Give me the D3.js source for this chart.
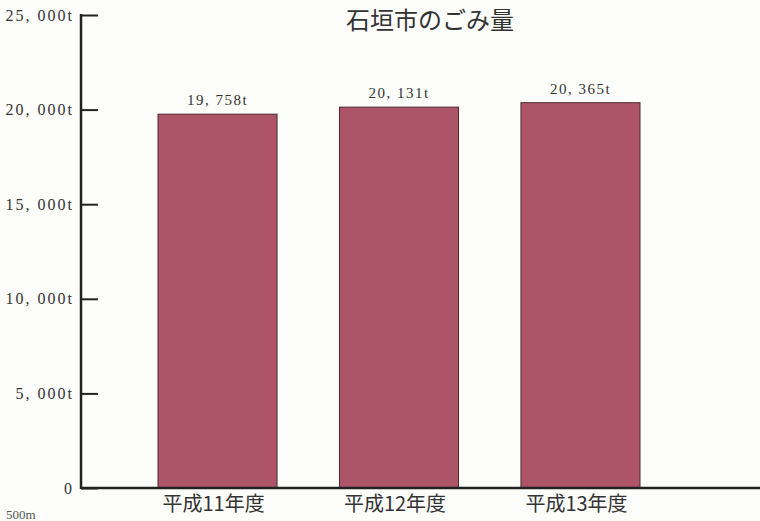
<!DOCTYPE html>
<html>
<head>
<meta charset="utf-8">
<script src="https://cdn.jsdelivr.net/npm/d3@7"></script>
<style>
  body { margin: 0; background: #fdfdfb; }
  svg { display: block; }
</style>
</head>
<body>
<div id="viz"></div>
<script>
// data
const years = ["平成11年度", "平成12年度", "平成13年度"]
const tonnes = [19758, 20131, 20365]
const valueLabels = ["19, 758t", "20, 131t", "20, 365t"]
const yTicks = [0, 5000, 10000, 15000, 20000, 25000]
const yTickLabels = ["0", "5, 000t", "10, 000t", "15, 000t", "20, 000t", "25, 000t"]

const W = 760, H = 521
const margin = { top: 15, right: 0, bottom: 33, left: 81 }

const svg = d3.select("#viz").append("svg")
  .attr("width", W).attr("height", H)

svg.append("rect").attr("width", W).attr("height", H).attr("fill", "#fdfdfb")

// scales
const y = d3.scaleLinear()
  .domain([0, 25000])
  .range([H - margin.bottom, margin.top])

const x = d3.scaleBand()
  .domain(years)
  .range([158, 640])
  .paddingInner(0.344)
  .paddingOuter(0)

// bars
svg.selectAll(".bar")
  .data(tonnes)
  .enter().append("rect")
  .attr("class", "bar")
  .attr("x", (d, i) => x(years[i]))
  .attr("y", d => y(d))
  .attr("width", x.bandwidth())
  .attr("height", d => y(0) - y(d))
  .attr("fill", "#ad5468")
  .attr("stroke", "#4a2a30")
  .attr("stroke-width", 1)

// value labels
svg.selectAll(".val")
  .data(tonnes)
  .enter().append("text")
  .attr("x", (d, i) => x(years[i]) + x.bandwidth() / 2)
  .attr("y", d => y(d) - 9)
  .attr("text-anchor", "middle")
  .attr("font-family", "'Liberation Serif', 'DejaVu Serif', serif")
  .attr("font-size", 15)
  .attr("letter-spacing", 1.5)
  .attr("fill", "#333")
  .text((d, i) => valueLabels[i])

// y axis
const yAxis = d3.axisRight(y)
  .tickValues(yTicks)
  .tickSize(17)
  .tickFormat("")

const gy = svg.append("g")
  .attr("transform", "translate(" + margin.left + ",0)")
  .call(yAxis)
gy.select(".domain").remove()
gy.selectAll(".tick line").attr("stroke", "#222").attr("stroke-width", 2)

svg.append("line")
  .attr("x1", margin.left).attr("x2", margin.left)
  .attr("y1", y(25000) - 1).attr("y2", y(0) + 1)
  .attr("stroke", "#222").attr("stroke-width", 2.5)

// y tick labels
svg.selectAll(".ylab")
  .data(yTicks)
  .enter().append("text")
  .attr("x", margin.left - 7)
  .attr("y", d => y(d))
  .attr("dy", "0.35em")
  .attr("text-anchor", "end")
  .attr("font-family", "'Liberation Serif', 'DejaVu Serif', serif")
  .attr("font-size", 16)
  .attr("letter-spacing", 2)
  .attr("fill", "#333")
  .text((d, i) => yTickLabels[i])

// x axis
svg.append("line")
  .attr("x1", margin.left).attr("x2", W)
  .attr("y1", y(0)).attr("y2", y(0))
  .attr("stroke", "#222").attr("stroke-width", 2.5)

const gx = svg.append("g")
  .attr("transform", "translate(-4," + y(0) + ")")
  .call(d3.axisBottom(x).tickSize(0).tickPadding(9))
gx.select(".domain").remove()
gx.selectAll("text")
  .attr("font-family", "'Noto Sans CJK JP', serif")
  .attr("font-size", 20)
  .attr("fill", "#333")

// title
svg.append("text")
  .attr("x", 430).attr("y", 29)
  .attr("text-anchor", "middle")
  .attr("font-family", "'Noto Sans CJK JP', sans-serif")
  .attr("font-size", 24)
  .attr("fill", "#333")
  .text("石垣市のごみ量")

// scale note at bottom left
svg.append("text")
  .attr("x", 6).attr("y", 519)
  .attr("font-family", "'Liberation Serif', serif")
  .attr("font-size", 13)
  .attr("fill", "#555")
  .text("500m")
</script>
</body>
</html>
